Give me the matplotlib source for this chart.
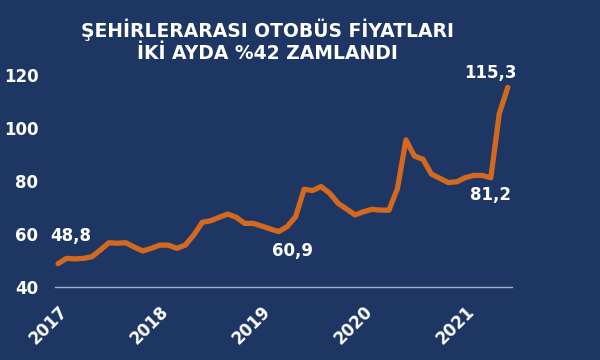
import matplotlib.pyplot as plt

# monthly index, Jan 2017 .. Jun 2021
prices = [
    48.8, 50.8, 50.6, 50.8, 51.4, 54.0, 56.7, 56.5, 56.7, 55.0, 53.6, 54.6,
    55.8, 55.8, 54.6, 55.8, 59.6, 64.4, 65.0, 66.3, 67.5, 66.3, 64.0, 64.0,
    63.0, 61.9, 60.9, 62.8, 66.5, 76.9, 76.4, 77.9, 75.4, 71.6, 69.4, 67.2,
    68.4, 69.3, 69.0, 69.0, 77.2, 95.5, 89.4, 88.2, 82.6, 81.0, 79.4, 79.7,
    81.3, 82.1, 82.1, 81.2, 105.5, 115.3,
]
years = ["2017", "2018", "2019", "2020", "2021"]
y_ticks = [40, 60, 80, 100, 120]
# (month index, text, offset in pixels)
labels = [
    (0, "48,8", (13, 28)),
    (26, "60,9", (14, -19)),
    (51, "81,2", (0, -17)),
    (53, "115,3", (-17, 14)),
]

BG = "#1e3663"
LINE = "#d2691e"

plt.rcParams["font.family"] = "DejaVu Sans"
plt.rcParams["font.weight"] = "bold"

fig = plt.figure(figsize=(6, 3.6), dpi=100, facecolor=BG)
ax = fig.add_axes([0.0917, 0.2028, 0.7617, 0.597])
ax.set_facecolor(BG)

months = list(range(len(prices)))
ax.plot(months, prices, color=LINE, linewidth=3.8, solid_capstyle="round",
        solid_joinstyle="round")

ax.set_xlim(-0.35, 53.5)
ax.set_ylim(40, 121.1)

for s in ["top", "right", "left"]:
    ax.spines[s].set_visible(False)
ax.spines["bottom"].set_color("#9fb0cc")
ax.spines["bottom"].set_linewidth(1)

ax.set_yticks(y_ticks)
ax.set_yticklabels([str(v) for v in y_ticks])
ax.set_xticks([12 * i for i in range(len(years))])
ax.set_xticklabels(years, rotation=45, ha="right", va="top",
                   rotation_mode="anchor")
ax.tick_params(axis="both", length=0, colors="white", labelsize=12)
ax.tick_params(axis="y", pad=12)
ax.tick_params(axis="x", pad=11)

for idx, text, off in labels:
    ax.annotate(text, xy=(idx, prices[idx]), xytext=off,
                textcoords="offset pixels", ha="center", va="center",
                color="white", fontsize=12, fontweight="bold")

fig.text(0.446, 0.886, "ŞEHİRLERARASI OTOBÜS FİYATLARI\nİKİ AYDA %42 ZAMLANDI",
         ha="center", va="center", color="white", fontsize=13.5,
         fontweight="bold", linespacing=1.2)

fig.savefig("out.png", dpi=100, facecolor=BG)
